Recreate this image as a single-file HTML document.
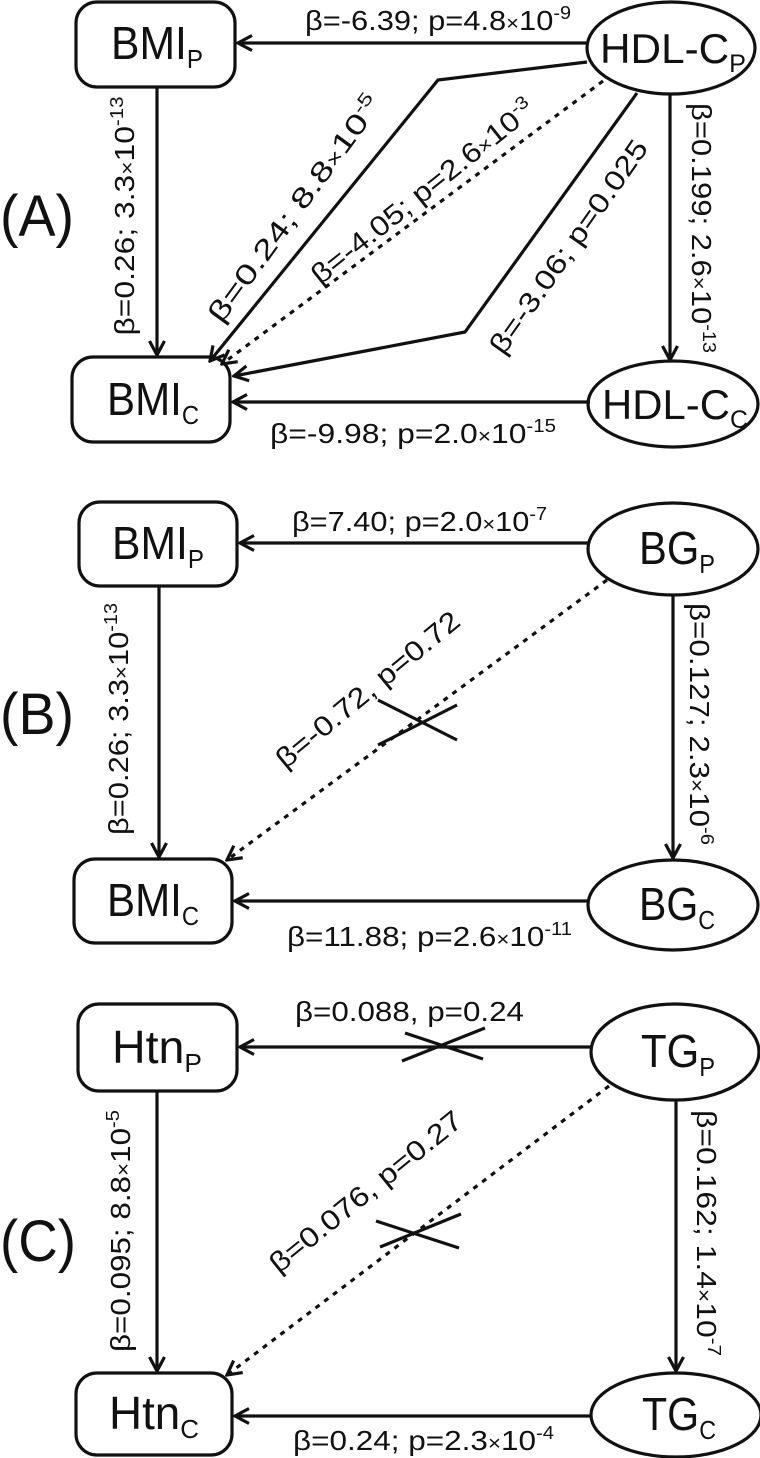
<!DOCTYPE html>
<html><head><meta charset="utf-8"><style>
html,body{margin:0;padding:0;background:#fff;}
svg{display:block;}
text{font-family:"Liberation Sans",Arial,sans-serif;fill:#111;}
</style></head><body>
<svg width="760" height="1458" viewBox="0 0 760 1458" xmlns="http://www.w3.org/2000/svg">
<defs>
<marker id="ah" viewBox="0 0 18 18" refX="16" refY="9" markerWidth="18" markerHeight="18" markerUnits="userSpaceOnUse" orient="auto">
<path d="M2,1.5 L16,9 L2,16.5" fill="none" stroke="#111" stroke-width="3.2"/>
</marker>
</defs>
<g fill="none" stroke="#111" stroke-width="3.2">
<!-- Panel A -->
<rect x="76" y="2" width="159" height="85" rx="21"/>
<rect x="72" y="357" width="158" height="85" rx="21"/>
<ellipse cx="671" cy="48" rx="84" ry="46"/>
<ellipse cx="673" cy="404" rx="85" ry="43"/>
<line x1="587" y1="43" x2="238" y2="43" marker-end="url(#ah)"/>
<line x1="157" y1="87" x2="157" y2="355" marker-end="url(#ah)"/>
<line x1="670" y1="94" x2="670" y2="360" marker-end="url(#ah)"/>
<line x1="590" y1="402" x2="233" y2="402" marker-end="url(#ah)"/>
<polyline points="587,62 438,80 210,361" marker-end="url(#ah)"/>
<line x1="603" y1="81" x2="222" y2="364" stroke-dasharray="5,6" marker-end="url(#ah)"/>
<polyline points="637,93 465,332 234,376" marker-end="url(#ah)"/>
<!-- Panel B -->
<rect x="79" y="502" width="158" height="84" rx="21"/>
<rect x="74" y="859" width="158" height="84" rx="21"/>
<ellipse cx="673" cy="549" rx="85" ry="46"/>
<ellipse cx="673" cy="905" rx="85" ry="45"/>
<line x1="588" y1="543" x2="240" y2="543" marker-end="url(#ah)"/>
<line x1="159" y1="586" x2="159" y2="857" marker-end="url(#ah)"/>
<line x1="673" y1="595" x2="673" y2="858" marker-end="url(#ah)"/>
<line x1="588" y1="901" x2="235" y2="901" marker-end="url(#ah)"/>
<line x1="607" y1="580" x2="227" y2="860" stroke-dasharray="5,6" marker-end="url(#ah)"/>
<line x1="378" y1="700" x2="457" y2="740"/>
<line x1="378" y1="745" x2="457" y2="705"/>
<!-- Panel C -->
<rect x="78" y="1004" width="159" height="87" rx="21"/>
<rect x="76" y="1373" width="156" height="82" rx="21"/>
<ellipse cx="675" cy="1052" rx="84" ry="48"/>
<ellipse cx="676" cy="1415" rx="85" ry="42"/>
<line x1="591" y1="1047" x2="240" y2="1047" marker-end="url(#ah)"/>
<line x1="402" y1="1061" x2="485" y2="1028"/>
<line x1="405" y1="1033" x2="483" y2="1059"/>
<line x1="157" y1="1091" x2="157" y2="1371" marker-end="url(#ah)"/>
<line x1="676" y1="1100" x2="676" y2="1371" marker-end="url(#ah)"/>
<line x1="591" y1="1416" x2="235" y2="1416" marker-end="url(#ah)"/>
<line x1="609" y1="1086" x2="227" y2="1375" stroke-dasharray="5,6" marker-end="url(#ah)"/>
<line x1="376" y1="1221" x2="459" y2="1248"/>
<line x1="380" y1="1247" x2="461" y2="1214"/>
</g>

<!-- Node texts -->
<g font-size="46" text-anchor="middle">
<text x="157" y="59" textLength="92" lengthAdjust="spacingAndGlyphs">BMI<tspan font-size="26" dy="9">P</tspan></text>
<text x="153" y="415" textLength="92" lengthAdjust="spacingAndGlyphs">BMI<tspan font-size="26" dy="9">C</tspan></text>
<text x="673" y="63" font-size="42" textLength="146" lengthAdjust="spacingAndGlyphs">HDL-C<tspan font-size="25" dy="9">P</tspan></text>
<text x="675" y="419" font-size="42" textLength="146" lengthAdjust="spacingAndGlyphs">HDL-C<tspan font-size="25" dy="9">C</tspan></text>
<text x="158" y="559" textLength="92" lengthAdjust="spacingAndGlyphs">BMI<tspan font-size="26" dy="9">P</tspan></text>
<text x="153" y="916" textLength="92" lengthAdjust="spacingAndGlyphs">BMI<tspan font-size="26" dy="9">C</tspan></text>
<text x="677" y="564" textLength="76" lengthAdjust="spacingAndGlyphs">BG<tspan font-size="26" dy="9">P</tspan></text>
<text x="677" y="920" textLength="76" lengthAdjust="spacingAndGlyphs">BG<tspan font-size="26" dy="9">C</tspan></text>
<text x="157" y="1063" textLength="90" lengthAdjust="spacingAndGlyphs">Htn<tspan font-size="26" dy="9">P</tspan></text>
<text x="154" y="1429" textLength="90" lengthAdjust="spacingAndGlyphs">Htn<tspan font-size="26" dy="9">C</tspan></text>
<text x="678" y="1067" textLength="74" lengthAdjust="spacingAndGlyphs">TG<tspan font-size="26" dy="9">P</tspan></text>
<text x="679" y="1430" textLength="74" lengthAdjust="spacingAndGlyphs">TG<tspan font-size="26" dy="9">C</tspan></text>
</g>

<!-- Panel labels -->
<g font-size="58">
<text x="0" y="236" textLength="74" lengthAdjust="spacingAndGlyphs">(A)</text>
<text x="0" y="734" textLength="74" lengthAdjust="spacingAndGlyphs">(B)</text>
<text x="0" y="1261" textLength="76" lengthAdjust="spacingAndGlyphs">(C)</text>
</g>

<!-- Edge labels -->
<g font-size="28">
<!-- A -->
<text x="305" y="30" textLength="266" lengthAdjust="spacingAndGlyphs">β=-6.39; p=4.8<tspan font-size="20">×</tspan>10<tspan font-size="18" dy="-11">-9</tspan></text>
<text x="270" y="443" textLength="286" lengthAdjust="spacingAndGlyphs">β=-9.98; p=2.0<tspan font-size="20">×</tspan>10<tspan font-size="18" dy="-11">-15</tspan></text>
<text transform="translate(134,216) rotate(-90)" text-anchor="middle" textLength="239" lengthAdjust="spacingAndGlyphs">β=0.26; 3.3<tspan font-size="20">×</tspan>10<tspan font-size="18" dy="-11">-13</tspan></text>
<text transform="translate(692,228) rotate(90)" text-anchor="middle" textLength="250" lengthAdjust="spacingAndGlyphs">β=0.199; 2.6<tspan font-size="20">×</tspan>10<tspan font-size="18" dy="-11">-13</tspan></text>
<text transform="translate(295,209) rotate(-53.8)" text-anchor="middle" dy="9" textLength="273" lengthAdjust="spacingAndGlyphs">β=0.24; 8.8<tspan font-size="20">×</tspan>10<tspan font-size="18" dy="-11">-5</tspan></text>
<text transform="translate(423,192) rotate(-38.6)" text-anchor="middle" dy="9" textLength="277" lengthAdjust="spacingAndGlyphs">β=-4.05; p=2.6<tspan font-size="20">×</tspan>10<tspan font-size="18" dy="-11">-3</tspan></text>
<text transform="translate(569,247) rotate(-55)" text-anchor="middle" dy="9" textLength="254" lengthAdjust="spacingAndGlyphs">β=-3.06; p=0.025</text>
<!-- B -->
<text x="292" y="531" textLength="255" lengthAdjust="spacingAndGlyphs">β=7.40; p=2.0<tspan font-size="20">×</tspan>10<tspan font-size="18" dy="-11">-7</tspan></text>
<text x="287" y="946" textLength="285" lengthAdjust="spacingAndGlyphs">β=11.88; p=2.6<tspan font-size="20">×</tspan>10<tspan font-size="18" dy="-11">-11</tspan></text>
<text transform="translate(128,719) rotate(-90)" text-anchor="middle" textLength="232" lengthAdjust="spacingAndGlyphs">β=0.26; 3.3<tspan font-size="20">×</tspan>10<tspan font-size="18" dy="-11">-13</tspan></text>
<text transform="translate(690,724) rotate(90)" text-anchor="middle" textLength="242" lengthAdjust="spacingAndGlyphs">β=0.127; 2.3<tspan font-size="20">×</tspan>10<tspan font-size="18" dy="-11">-6</tspan></text>
<text transform="translate(368,690) rotate(-39.5)" text-anchor="middle" dy="9" textLength="229" lengthAdjust="spacingAndGlyphs">β=-0.72, p=0.72</text>
<!-- C -->
<text x="295" y="1021" textLength="229" lengthAdjust="spacingAndGlyphs">β=0.088, p=0.24</text>
<text x="293" y="1450" textLength="261" lengthAdjust="spacingAndGlyphs">β=0.24; p=2.3<tspan font-size="20">×</tspan>10<tspan font-size="18" dy="-11">-4</tspan></text>
<text transform="translate(130,1231) rotate(-90)" text-anchor="middle" textLength="242" lengthAdjust="spacingAndGlyphs">β=0.095; 8.8<tspan font-size="20">×</tspan>10<tspan font-size="18" dy="-11">-5</tspan></text>
<text transform="translate(697,1233) rotate(90)" text-anchor="middle" textLength="246" lengthAdjust="spacingAndGlyphs">β=0.162; 1.4<tspan font-size="20">×</tspan>10<tspan font-size="18" dy="-11">-7</tspan></text>
<text transform="translate(366,1192) rotate(-39)" text-anchor="middle" dy="9" textLength="239" lengthAdjust="spacingAndGlyphs">β=0.076, p=0.27</text>
</g>
</svg>
</body></html>
